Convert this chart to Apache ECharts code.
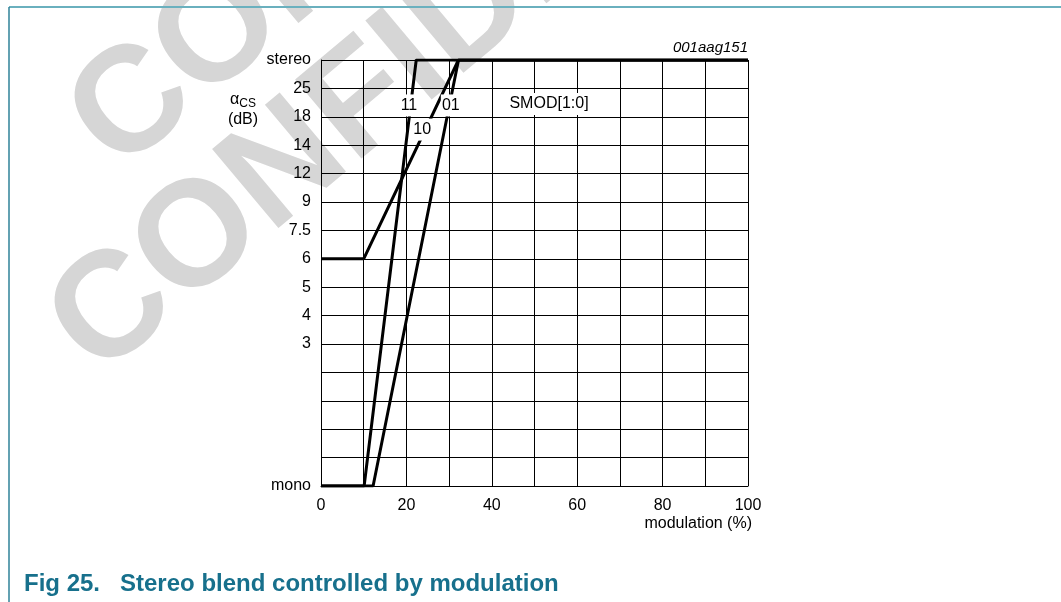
<!DOCTYPE html>
<html>
<head>
<meta charset="utf-8">
<script src="https://cdn.jsdelivr.net/npm/echarts@6/dist/echarts.min.js"></script>
<style>
  html, body { margin: 0; padding: 0; background: #fff; }
  #main { width: 1061px; height: 602px; }
</style>
</head>
<body>
<div id="main"></div>
<script>
// y axis: 16 levels, mono at the bottom, stereo at the top
var yLabels = ['mono', '', '', '', '', '3', '4', '5', '6', '7.5', '9', '12', '14', '18', '25', 'stereo'];
var xTicks = [0, 20, 40, 60, 80, 100];

// curves, [modulation %, level index]
var smod11 = [[0, 0], [10.1, 0], [22.3, 15], [100, 15]];
var smod10 = [[0, 8], [10, 8], [32.2, 15], [100, 15]];
var smod01 = [[0, 0], [12.2, 0], [32.2, 15], [100, 15]];

// curve names placed on the lines
var curveLabels = [[20.6, 13.4, '11'], [30.4, 13.4, '01'], [23.7, 12.55, '10'], [53.4, 13.45, 'SMOD[1:0]']];

var myChart = echarts.init(document.getElementById('main'));
var font = 'Liberation Sans, Arial, sans-serif';
var tilt = 40 * Math.PI / 180;

myChart.setOption({
  backgroundColor: '#fff',
  animation: false,
  grid: { left: 321, right: 313, top: 60, bottom: 116 },
  xAxis: {
    type: 'value',
    min: 0, max: 100, interval: 10,
    axisLine: { show: true, lineStyle: { color: '#000', width: 1 } },
    axisTick: { show: false },
    splitLine: { show: true, lineStyle: { color: '#000', width: 1 } },
    axisLabel: {
      color: '#000', fontSize: 16, fontFamily: font, margin: 12,
      formatter: function (v) { return xTicks.indexOf(v) >= 0 ? String(v) : ''; }
    },
    name: 'modulation (%)',
    nameLocation: 'end',
    nameGap: 0,
    nameTextStyle: { color: '#000', fontSize: 16, fontFamily: font, align: 'right', verticalAlign: 'top', padding: [30, -4, 0, 0] }
  },
  yAxis: {
    type: 'value',
    min: 0, max: 15, interval: 1,
    axisLine: { show: true, lineStyle: { color: '#000', width: 1 } },
    axisTick: { show: false },
    splitLine: { show: true, lineStyle: { color: '#000', width: 1 } },
    axisLabel: {
      color: '#000', fontSize: 16, fontFamily: font, margin: 10,
      formatter: function (v) { return yLabels[v] || ''; }
    }
  },
  graphic: [
    // watermark
    {
      type: 'group', z: -10, silent: true,
      children: [
        { type: 'text', x: 140, y: 200, rotation: tilt, z: -10,
          style: { text: 'CONFIDENTIAL', fill: '#d6d6d6', font: 'bold 150px Liberation Sans', textVerticalAlign: 'bottom' } },
        { type: 'text', x: 120, y: 405, rotation: tilt, z: -10,
          style: { text: 'CONFIDENTIAL', fill: '#d6d6d6', font: 'bold 150px Liberation Sans', textVerticalAlign: 'bottom' } }
      ]
    },
    // frame
    { type: 'line', shape: { x1: 9, y1: 7, x2: 1061, y2: 7 }, style: { stroke: '#6ab0be', lineWidth: 2 } },
    { type: 'line', shape: { x1: 9, y1: 7, x2: 9, y2: 602 }, style: { stroke: '#2f8299', lineWidth: 1.5 } },
    // axis title
    { type: 'text', x: 243, y: 90, style: { text: '{a|α}{s|CS}\n(dB)', rich: { a: { fontSize: 16, fontFamily: font }, s: { fontSize: 12, fontFamily: font, verticalAlign: 'bottom', padding: [8, 0, 0, 0] } }, fill: '#000', font: '16px Liberation Sans', textAlign: 'center', lineHeight: 20 } },
    { type: 'text', right: 313, top: 40, style: { text: '001aag151', fill: '#000', font: 'italic 15px Liberation Sans' } },
    { type: 'text', left: 24, top: 572, style: { text: 'Fig 25.   Stereo blend controlled by modulation', fill: '#17708c', font: 'bold 24px Liberation Sans' } }
  ],
  series: [
    { type: 'line', data: smod11, symbol: 'none', lineStyle: { color: '#000', width: 3 }, z: 3 },
    { type: 'line', data: smod10, symbol: 'none', lineStyle: { color: '#000', width: 3 }, z: 3 },
    { type: 'line', data: smod01, symbol: 'none', lineStyle: { color: '#000', width: 3 }, z: 3 },
    {
      type: 'scatter', data: curveLabels, z: 5, silent: true,
      symbol: 'rect',
      symbolSize: function (d) { return d[2].length > 2 ? [92, 22] : [20, 22]; },
      itemStyle: { color: '#fff', opacity: 1 },
      label: {
        show: true, position: 'inside',
        formatter: function (p) { return p.data[2]; },
        color: '#000', fontSize: 16, fontFamily: font
      }
    }
  ]
});
</script>
</body>
</html>
